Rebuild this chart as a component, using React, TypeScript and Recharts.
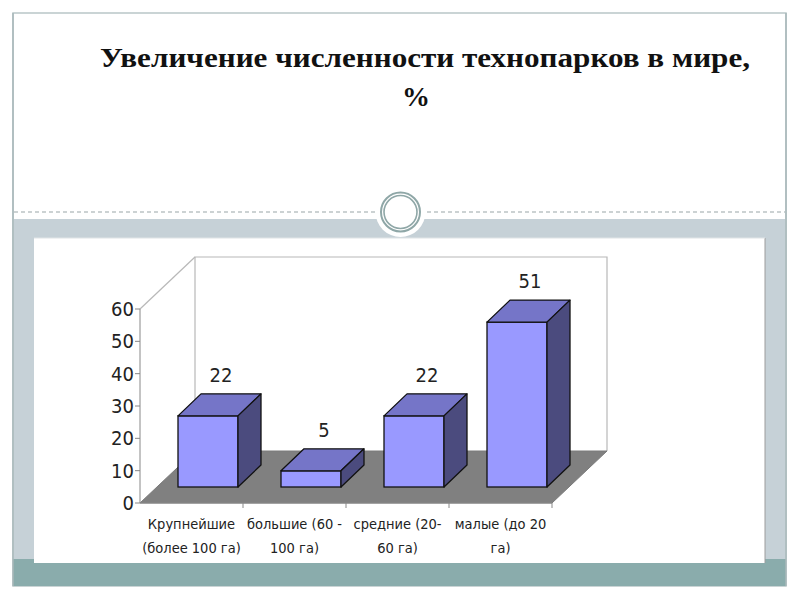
import React from "react";
import { BarChart, Bar, XAxis, YAxis, ReferenceArea, LabelList } from "recharts";

const categories = [
  "Крупнейшие\n(более 100 га)",
  "большие (60 -\n100 га)",
  "средние (20-\n60 га)",
  "малые (до 20\nга)",
];
const values = [22, 5, 22, 51];
const yTicks = [0, 10, 20, 30, 40, 50, 60];
const titleLine1 = "Увеличение численности технопарков в мире,";
const titleLine2 = "%";

const data = categories.map((c, i) => ({ name: c, value: values[i] }));

const FONT = "'DejaVu Sans Condensed', 'DejaVu Sans', sans-serif";
const WALL_DX = 55;
const WALL_DY = 52;
const BAR_OX = 16;
const BAR_OY = 16;
const BAR_DX = 23;
const BAR_DY = 22;

const FRONT = "#9999ff";
const TOP = "#7575c8";
const SIDE = "#4b4b7e";

function Bar3D(props: any) {
  const { x, y, width, height } = props;
  if (width == null || height == null) return null;
  const x0 = x + BAR_OX;
  const x1 = x0 + width;
  const yt = y - BAR_OY;
  const yb = y + height - BAR_OY;
  const sw = 1.3;
  return (
    <g>
      <rect x={x0} y={yt} width={width} height={yb - yt} fill={FRONT} stroke="#111" strokeWidth={sw} />
      <polygon
        points={`${x0},${yt} ${x1},${yt} ${x1 + BAR_DX},${yt - BAR_DY} ${x0 + BAR_DX},${yt - BAR_DY}`}
        fill={TOP}
        stroke="#111"
        strokeWidth={sw}
        strokeLinejoin="round"
      />
      <polygon
        points={`${x1},${yt} ${x1 + BAR_DX},${yt - BAR_DY} ${x1 + BAR_DX},${yb - BAR_DY} ${x1},${yb}`}
        fill={SIDE}
        stroke="#111"
        strokeWidth={sw}
        strokeLinejoin="round"
      />
    </g>
  );
}

function FloorAndWalls(props: any) {
  const { x, y, width, height } = props;
  if (x == null) return null;
  const xl = x;
  const xr = x + width;
  const yt = y;
  const yb = y + height;
  const n = categories.length;
  const ticks = [];
  for (let i = 1; i <= n; i++) {
    const tx = xl + (i * width) / n;
    ticks.push(<line key={i} x1={tx} y1={yb} x2={tx} y2={yb + 5} stroke="#888" strokeWidth={1} />);
  }
  return (
    <g>
      <polyline
        points={`${xl + WALL_DX},${yb - WALL_DY} ${xl + WALL_DX},${yt - WALL_DY} ${xr + WALL_DX},${yt - WALL_DY} ${xr + WALL_DX},${yb - WALL_DY}`}
        fill="#ffffff"
        stroke="#b8b8b8"
        strokeWidth={1.2}
      />
      <line x1={xl} y1={yt} x2={xl + WALL_DX} y2={yt - WALL_DY} stroke="#b8b8b8" strokeWidth={1.2} />
      <polygon
        points={`${xl},${yb} ${xr},${yb} ${xr + WALL_DX},${yb - WALL_DY} ${xl + WALL_DX},${yb - WALL_DY}`}
        fill="#808080"
        stroke="#7a7a7a"
        strokeWidth={1}
      />
      <line x1={xl} y1={yb} x2={xr} y2={yb} stroke="#8a8a8a" strokeWidth={1} />
      {ticks}
    </g>
  );
}

function CatTick(props: any) {
  const { x, y, payload } = props;
  const lines = String(payload.value).split("\n");
  return (
    <text
      x={x}
      y={y}
      textAnchor="middle"
      fontFamily={FONT}
      fontStretch="condensed"
      fontSize={14.5}
      fill="#222"
    >
      {lines.map((l, i) => (
        <tspan key={i} x={x} dy={i === 0 ? 18 : 24}>
          {l}
        </tspan>
      ))}
    </text>
  );
}

function ValueLabel(props: any) {
  const { x, y, width, value } = props;
  return (
    <text
      x={x + width / 2 + BAR_OX + 13}
      y={y - 57}
      textAnchor="middle"
      dominantBaseline="central"
      fontFamily={FONT}
      fontStretch="condensed"
      fontSize={20}
      fill="#222"
    >
      {value}
    </text>
  );
}

function Slide() {
  return (
    <svg width={800} height={600} style={{ position: "absolute", left: 0, top: 0 }}>
      <rect x={0} y={0} width={800} height={600} fill="#ffffff" />
      <rect x={13} y={13} width={773} height={573} fill="#ffffff" stroke="#b9c6c8" strokeWidth={1.5} />
      <rect x={13} y={219} width={773} height={340} fill="#c6d1d7" />
      <rect x={13} y={559} width={773} height={27} fill="#8aacac" />
      <line x1={13} y1={13} x2={13} y2={586} stroke="#a8b8ba" strokeWidth={1.5} />
      <line x1={786} y1={13} x2={786} y2={586} stroke="#a8b8ba" strokeWidth={1.5} />
      <line x1={14} y1={212} x2={785} y2={212} stroke="#9aa6a8" strokeWidth={1.2} strokeDasharray="4 3" />
      <rect x={34} y={238} width={731} height={325} fill="#ffffff" />
      <line x1={765} y1={238} x2={765} y2={563} stroke="#9c9c9c" strokeWidth={1} />
      <line x1={34} y1={238} x2={765} y2={238} stroke="#e0e4e6" strokeWidth={1} />
      <circle cx={400.5} cy={212} r={25} fill="#ffffff" />
      <circle cx={400.5} cy={212} r={19.5} fill="none" stroke="#8fa7a7" strokeWidth={2} />
      <circle cx={400.5} cy={212} r={16.5} fill="none" stroke="#8fa7a7" strokeWidth={1.6} />
      <text
        x={425}
        y={67}
        textAnchor="middle"
        fontFamily="'Liberation Serif', 'Times New Roman', serif"
        fontWeight="bold"
        fontSize={28}
        fill="#111"
        textLength={650}
        lengthAdjust="spacingAndGlyphs"
      >
        {titleLine1}
      </text>
      <text
        x={416}
        y={106}
        textAnchor="middle"
        fontFamily="'Liberation Serif', 'Times New Roman', serif"
        fontWeight="bold"
        fontSize={28}
        fill="#111"
      >
        {titleLine2}
      </text>
    </svg>
  );
}

export default function App() {
  return (
    <div style={{ position: "absolute", left: 0, top: 0, width: 800, height: 600 }}>
      <Slide />
      <div style={{ position: "absolute", left: 0, top: 0 }}>
        <BarChart
          width={800}
          height={600}
          data={data}
          margin={{ top: 309, right: 248, bottom: 37, left: 0 }}
          barSize={60}
        >
          <ReferenceArea y1={0} y2={60} shape={<FloorAndWalls />} ifOverflow="visible" />
          <XAxis
            dataKey="name"
            height={60}
            axisLine={false}
            tickLine={false}
            tick={<CatTick />}
            interval={0}
          />
          <YAxis
            width={140}
            domain={[0, 60]}
            ticks={yTicks}
            axisLine={{ stroke: "#888" }}
            tickLine={{ stroke: "#888" }}
            tickSize={5}
            tickMargin={1}
            tick={{ fontFamily: FONT, fontSize: 20, fill: "#222", fontStretch: "condensed" } as any}
          />
          <Bar dataKey="value" shape={<Bar3D />} isAnimationActive={false}>
            <LabelList dataKey="value" content={<ValueLabel />} />
          </Bar>
        </BarChart>
      </div>
    </div>
  );
}
